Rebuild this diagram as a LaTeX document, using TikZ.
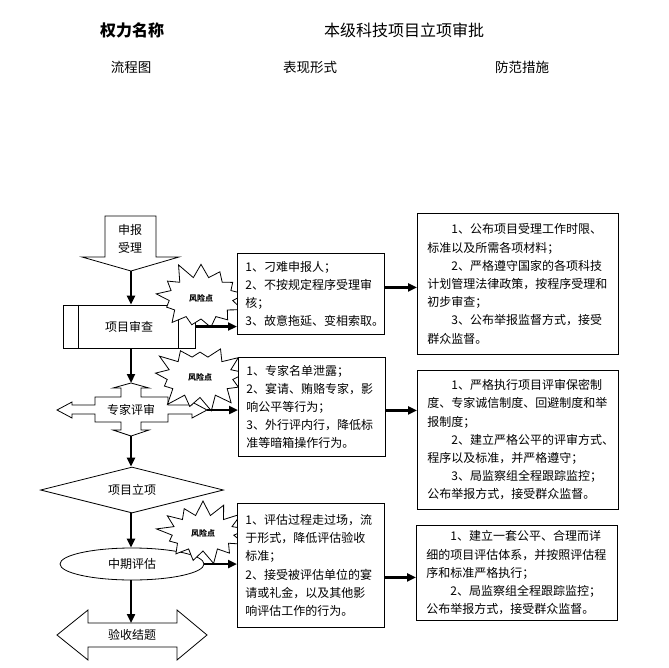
\documentclass[tikz,border=0pt]{standalone}
\usepackage{fontspec}
\newfontfamily\cjk{Noto Sans CJK SC}
\usetikzlibrary{shapes.geometric,shapes.symbols,arrows.meta}

\tikzset{
  txt/.style={font=\cjk\fontsize{12}{18.2}\selectfont},
  box/.style={draw, fill=white, anchor=north west, align=left, inner ysep=0pt, txt},
  midbox/.style={box, text width=131pt, inner xsep=8pt},
  sidebox/.style={box, text width=181pt, inner xsep=10pt},
  risk/.style={starburst, draw, fill=white, starburst points=13,
    starburst point height=17pt, inner sep=0pt,
    font=\cjk\bfseries\fontsize{8}{8}\selectfont},
  flow/.style={-{Triangle[length=9pt,width=8pt]}, line width=2.4pt},
}

\begin{document}
\begin{tikzpicture}[x=1pt, y=-1pt, line width=0.8pt]
\useasboundingbox (0,0) rectangle (668,668);
% headings
\node[font=\cjk\bfseries\fontsize{16}{16}\selectfont] (power) at (132,30) {权力名称};
\node[font=\cjk\fontsize{16}{16}\selectfont] (title) at (404,30) {本级科技项目立项审批};
\node[font=\cjk\fontsize{13.5}{13.5}\selectfont] (flowhead) at (131,67) {流程图};
\node[font=\cjk\fontsize{13.5}{13.5}\selectfont] (formhead) at (310,67) {表现形式};
\node[font=\cjk\fontsize{13.5}{13.5}\selectfont] (guardhead) at (522,67) {防范措施};

% flow chart
\draw (105,216) -- (156,216) -- (156,257) -- (179,257) -- (131,271)
      -- (82,257) -- (105,257) -- cycle;
\node[txt, align=center] (apply) at (130,239) {申报\\受理};
\coordinate (applytip) at (131,271);

\node[draw, minimum width=132pt, minimum height=43pt, txt] (check) at (129,326.5) {项目审查};
\draw ([xshift=16pt]check.north west) -- ([xshift=16pt]check.south west)
      ([xshift=-17pt]check.north east) -- ([xshift=-17pt]check.south east);

\draw (95,397) -- (121,397) -- (121,388) -- (113,388) -- (131,383) -- (149,388)
      -- (141,388) -- (141,397) -- (168,397) -- (168,405) -- (192,405) -- (192,402)
      -- (207,410) -- (192,418) -- (192,414) -- (168,414) -- (168,422) -- (141,422)
      -- (141,430) -- (149,430) -- (131,436) -- (113,430) -- (121,430) -- (121,422)
      -- (95,422) -- (95,414) -- (72,414) -- (72,418) -- (57,410) -- (72,402)
      -- (72,405) -- (95,405) -- cycle;
\node[txt] (review) at (131,410) {专家评审};
\coordinate (revtop) at (131,383);
\coordinate (revbot) at (131,436);
\coordinate (revright) at (207,410);

\node[diamond, aspect=4, draw, minimum width=183pt, minimum height=46pt,
      inner sep=0pt, txt] (approve) at (132,490) {项目立项};
\node[ellipse, draw, minimum width=144pt, minimum height=32pt, txt] (midterm) at (132,564) {中期评估};

\draw (57,635) -- (88,610) -- (88,623) -- (177,623) -- (177,610) -- (207,635)
      -- (177,660) -- (177,647) -- (88,647) -- (88,660) -- cycle;
\node[txt] (accept) at (132,635) {验收结题};
\coordinate (accepttop) at (131,623);

% risk points
\node[risk, random starburst=11, minimum width=98pt, minimum height=76pt] (risk1) at (201,298) {风险点};
\node[risk, random starburst=23, minimum width=100pt, minimum height=75pt] (risk2) at (200,377) {风险点};
\node[risk, random starburst=37, minimum width=96pt, minimum height=70pt] (risk3) at (203,533) {风险点};

% forms
\node[midbox, minimum height=81pt] (form1) at (237,253)
  {1、刁难申报人；\\2、不按规定程序受理审\\核；\\3、故意拖延、变相索取。};
\node[midbox, minimum height=99pt] (form2) at (238,357)
  {1、专家名单泄露；\\2、宴请、贿赂专家，影\\响公平等行为；\\3、外行评内行，降低标\\准等暗箱操作行为。};
\node[midbox, minimum height=124pt] (form3) at (237,503)
  {1、评估过程走过场，流\\于形式，降低评估验收\\标准；\\2、接受被评估单位的宴\\请或礼金，以及其他影\\响评估工作的行为。};

% measures
\node[sidebox, minimum height=141pt] (guard1) at (417,213)
  {\hspace*{2em}1、公布项目受理工作时限、\\标准以及所需各项材料；\\\hspace*{2em}2、严格遵守国家的各项科技\\计划管理法律政策，按程序受理和\\初步审查；\\\hspace*{2em}3、公布举报监督方式，接受\\群众监督。};
\node[sidebox, minimum height=139pt] (guard2) at (417,370)
  {\hspace*{2em}1、严格执行项目评审保密制\\度、专家诚信制度、回避制度和举\\报制度；\\\hspace*{2em}2、建立严格公平的评审方式、\\程序以及标准，并严格遵守；\\\hspace*{2em}3、局监察组全程跟踪监控；\\公布举报方式，接受群众监督。};
\node[sidebox, minimum height=95pt] (guard3) at (416,525)
  {\hspace*{2em}1、建立一套公平、合理而详\\细的项目评估体系，并按照评估程\\序和标准严格执行；\\\hspace*{2em}2、局监察组全程跟踪监控；\\公布举报方式，接受群众监督。};

% connectors
\draw[flow] (applytip) -- (applytip |- check.north);
\draw[flow] (applytip |- check.south) -- (revtop);
\draw[flow] (revbot) -- (revbot |- approve.north);
\draw[flow] (revbot |- approve.south) -- (revbot |- midterm.north);
\draw[flow] (revbot |- midterm.south) -- (accepttop);

\draw[flow] (check.east) -- (check.east -| form1.west);
\draw[flow] (revright) -- (revright -| form2.west);
\draw[flow] (midterm.east) -- (midterm.east -| form3.west);

\coordinate (out1) at ([yshift=6.5pt]form1.east);
\coordinate (out2) at ([yshift=-3.5pt]form2.east);
\coordinate (out3) at ([yshift=-12pt]form3.east);
\draw[flow] (out1) -- (out1 -| guard1.west);
\draw[flow] (out2) -- (out2 -| guard2.west);
\draw[flow] (out3) -- (out3 -| guard3.west);
\end{tikzpicture}
\end{document}
